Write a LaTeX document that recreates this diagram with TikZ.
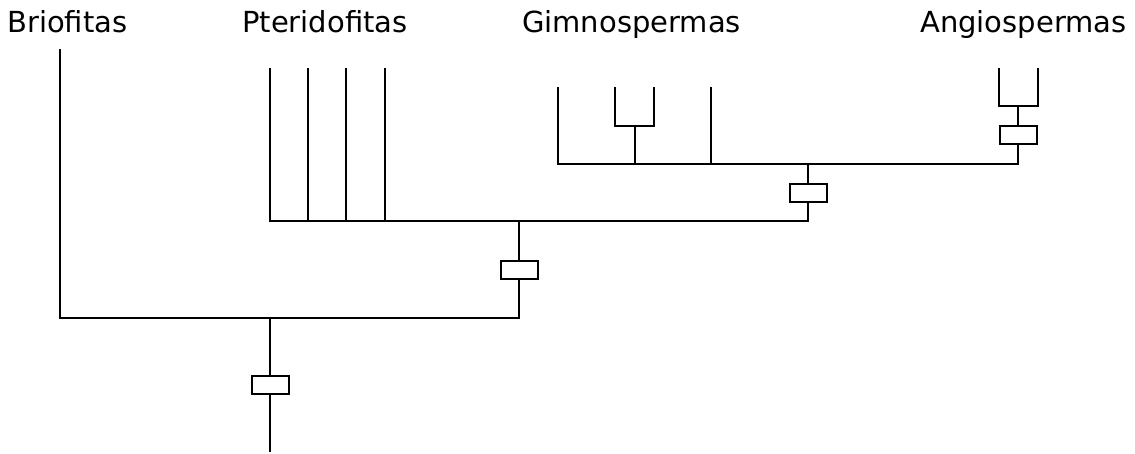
\documentclass[tikz,border=0pt]{standalone}
\usepackage{fontspec}
\setmainfont{DejaVu Sans}
\usetikzlibrary{positioning}
\tikzset{
    textnode/.style = {draw=none, fill=none, inner sep=0pt, anchor=base west, font=\fontsize{29}{35}\selectfont},
    boxnode/.style = {draw, rectangle, fill=white, line width=2pt, inner sep=0pt, minimum width=37pt, minimum height=18pt},
    branch/.style = {black, line width=2pt}
}

\begin{document}
\begin{tikzpicture}[x=1pt, y=-1pt]
    \useasboundingbox (0,0) rectangle (1135,453);

    % labels
    \node [textnode, name=brio]  at (7,32)   {Briofitas};
    \node [textnode, name=pter]  at (242,32) {Pteridofitas};
    \node [textnode, name=gimno] at (522,32) {Gimnospermas};
    \node [textnode, name=angio] at (920,32) {Angiospermas};

    % junctions
    \coordinate (root) at (270,452);
    \coordinate (j0) at (270,318);
    \coordinate (j1) at (519,221);
    \coordinate (j2) at (808,164);
    \coordinate (j3) at (1018,106);
    \coordinate (jg) at (635,126);

    % boxes
    \node [boxnode, name=b0] at (270,384.5) {};
    \node [boxnode, name=b1] at (519,269.5) {};
    \node [boxnode, name=b2] at (808,192.5) {};
    \node [boxnode, name=b3] at (1018,135) {};

    % leaves
    \coordinate (brioleaf) at (60,49);
    \coordinate (p1) at (270,68);
    \coordinate (p2) at (308,68);
    \coordinate (p3) at (346,68);
    \coordinate (p4) at (385,68);
    \coordinate (g1) at (558,87);
    \coordinate (g2) at (615,87);
    \coordinate (g3) at (654,87);
    \coordinate (g4) at (711,87);
    \coordinate (a1) at (999,68);
    \coordinate (a2) at (1038,68);

    % root and plants
    \draw [branch] (root) -- (b0) -- (j0);
    \draw [branch] (brioleaf) |- (j0) -| (b1.south);
    \draw [branch] (b1.north) -- (j1);

    % vascular plants
    \draw [branch] (p1) |- (j1) -| (b2.south);
    \foreach \p in {p2, p3, p4} {
        \draw [branch] (\p) -- (\p |- j1);
    }
    \draw [branch] (b2.north) -- (j2);

    % seed plants
    \draw [branch] (g1) |- (j2) -| (b3.south);
    \draw [branch] (g4) -- (g4 |- j2);
    \draw [branch] (jg) -- (jg |- j2);
    \draw [branch] (g2) |- (jg) -| (g3);
    \draw [branch] (b3.north) -- (j3);
    \draw [branch] (a1) |- (j3) -| (a2);
\end{tikzpicture}
\end{document}
